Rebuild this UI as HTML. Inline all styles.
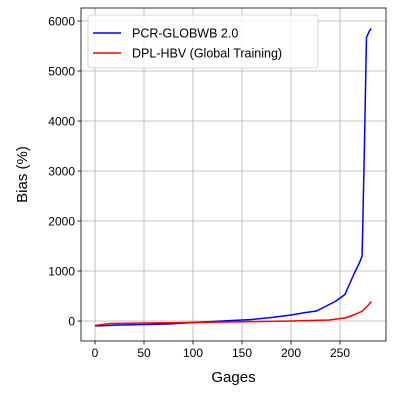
<!DOCTYPE html>
<html><head><style>
body{margin:0;background:#fff;}
svg{display:block;font-family:"Liberation Sans","DejaVu Sans",sans-serif;}
</style></head><body>
<svg id="chart" width="400" height="400"></svg>
<script>
const xTicks=[0,50,100,150,200,250];
const yTicks=[0,1000,2000,3000,4000,5000,6000];
const pcrX=[0,25,50,75,100,130,160,180,200,215,226,236,246,255,260,265,270,272.5,273,275,277,280,282];
const pcrY=[-100,-80,-70,-60,-30,0,30,70,120,170,200,300,400,530,750,970,1170,1300,1700,3570,5670,5800,5850];
const dplX=[0,15,50,100,150,200,239,256,265,273,278,282];
const dplY=[-90,-50,-40,-30,-15,0,20,65,130,200,300,390];
const names=["PCR-GLOBWB 2.0","DPL-HBV (Global Training)"];
const colors=["#0000ff","#ff0000"];
const L=81,R=386,T=8,B=341;
const sx=v=>95+v*0.98;
const sy=v=>321-v*0.05;
const svg=document.getElementById('chart');
const NS="http://www.w3.org/2000/svg";
function mk(t,a,p){const e=document.createElementNS(NS,t);for(const k in a)e.setAttribute(k,a[k]);(p||svg).appendChild(e);return e;}
xTicks.forEach(v=>{
 const g=mk('line',{x1:sx(v),x2:sx(v),y1:T,y2:B,stroke:'#b0b0b0','stroke-width':0.8});
 
 
 const t=mk('line',{x1:sx(v),x2:sx(v),y1:B,y2:B+3.5,stroke:'#000','stroke-width':0.8});
 
 
 const l=mk('text',{x:sx(v),y:B+16,'font-size':12,'text-anchor':'middle'});l.textContent=v;
 
 
});
yTicks.forEach(v=>{
 const g=mk('line',{x1:L,x2:R,y1:sy(v),y2:sy(v),stroke:'#b0b0b0','stroke-width':0.8});
 
 
 const t=mk('line',{x1:L-3.5,x2:L,y1:sy(v),y2:sy(v),stroke:'#000','stroke-width':0.8});
 
 
 const l=mk('text',{x:L-6,y:sy(v)+4.5,'font-size':12,'text-anchor':'end'});l.textContent=v;
 
 
});
[[pcrX,pcrY],[dplX,dplY]].forEach((s,i)=>{
 const p=mk('polyline',{points:s[0].map((x,j)=>sx(x)+','+sy(s[1][j])).join(' '),fill:'none',stroke:colors[i],'stroke-width':1.5});
 
 
});
const fr=mk('rect',{x:L,y:T,width:R-L,height:B-T,fill:'none',stroke:'#000','stroke-width':0.8});


const lg=mk('rect',{x:88,y:15,width:230,height:53,rx:3,fill:'#fff','fill-opacity':0.8,stroke:'#ccc','stroke-width':0.8});


names.forEach((n,i)=>{
 const y=33+i*20;
 const ln=mk('line',{x1:93,x2:121,y1:y,y2:y,stroke:colors[i],'stroke-width':1.5});
 
 
 const t=mk('text',{x:132,y:y+4.5,'font-size':12.5});t.textContent=n;
 
 
});
const xt=mk('text',{x:(L+R)/2,y:382,'font-size':15,'text-anchor':'middle'});xt.textContent='Gages';


const yt=mk('text',{x:0,y:0,'font-size':15,'text-anchor':'middle',transform:`translate(27,${(T+B)/2}) rotate(-90)`});yt.textContent='Bias (%)';


</script>
</body></html>
